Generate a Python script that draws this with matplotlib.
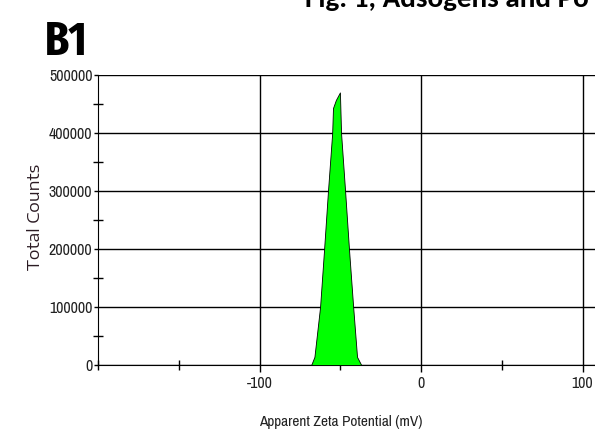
import numpy as np
import matplotlib.pyplot as plt
from matplotlib.ticker import MultipleLocator

plt.rcParams['axes.unicode_minus'] = False

zeta = [-68, -66, -62.5, -60, -57.6, -55, -54.5, -52.7, -50.2,
        -49.5, -47, -44.6, -42, -39.6, -37]
counts = [0, 14000, 100000, 200000, 300000, 400000, 443000, 457000, 470000,
          400000, 300000, 200000, 100000, 14000, 0]
yticks = [0, 100000, 200000, 300000, 400000, 500000]
xticks = [-100, 0, 100]

### Figure, axes run past the right edge (picture is cropped)
W, H = 595, 438
fig = plt.figure(figsize=(W/100, H/100), dpi=100)
x0, x1 = 98, 98 + 400*1.615
ax = fig.add_axes([x0/W, (H-365)/H, (x1-x0)/W, (365-75)/H])

ax.fill_between(zeta, counts, color='#00ff00', edgecolor='black', linewidth=0.6, zorder=3)

ax.set_xlim(-200, 200)
ax.set_ylim(0, 500000)
ax.set_xticks(xticks)
ax.set_yticks(yticks)
ax.xaxis.set_minor_locator(MultipleLocator(50))
ax.yaxis.set_minor_locator(MultipleLocator(50000))
ax.grid(True, which='major', color='black', linewidth=1.0)
ax.set_axisbelow(True)

for s in ['top', 'right']:
    ax.spines[s].set_visible(False)

ax.tick_params(which='major', direction='out', length=5, width=1, colors='black')
ax.tick_params(axis='x', which='major', pad=3)
ax.tick_params(axis='y', which='major', length=3, pad=1)
ax.tick_params(which='minor', direction='inout', length=7, width=1)
for lab in ax.get_xticklabels() + ax.get_yticklabels():
    lab.set_family('Archivo Narrow')
    lab.set_fontsize(11.5)
    lab.set_color('#222222')

### Labels placed in figure coordinates
fig.text(35/W, 1 - 217/H, 'Total Counts', rotation=90, ha='center', va='center',
         fontsize=12, family='Encode Sans Expanded', color='#2a1a22')
fig.text(341/W, 1 - 422/H, 'Apparent Zeta Potential (mV)', ha='center', va='center',
         fontsize=11, family='Archivo Narrow', color='#222222')
fig.text(45/W, 1 - 55/H, 'B1', ha='left', va='baseline', fontsize=34,
         family='Fira Sans Extra Condensed', fontweight='bold')
fig.text(305/W, 1 - 7/H, 'Fig. 1, Adsogens and Po', ha='left', va='baseline',
         fontsize=21, family='Carlito', fontweight='bold')

fig.savefig('out.png', dpi=100)
